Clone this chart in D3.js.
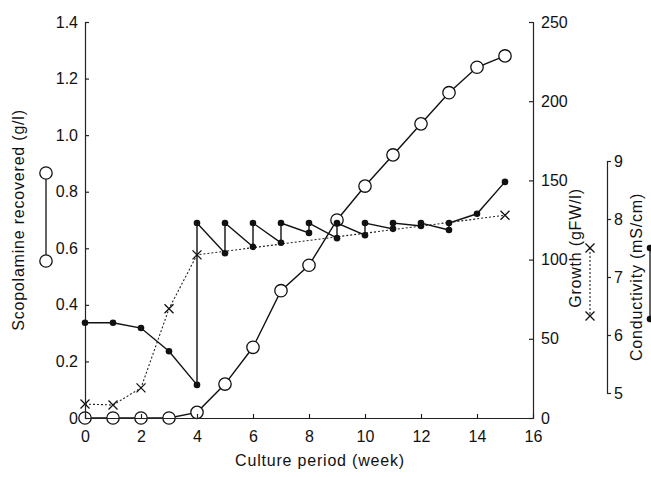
<!DOCTYPE html>
<html>
<head>
<meta charset="utf-8">
<script src="https://cdn.jsdelivr.net/npm/d3@7"></script>
<style>
  body { margin: 0; background: #fff; }
  svg { display: block; font-family: "Liberation Sans", Arial, sans-serif; }
  .axis path, .axis line { stroke: #222; stroke-width: 1.2; }
  .axis text { font-size: 16px; fill: #111; font-family: "Liberation Sans", Arial, sans-serif; }
  .title { font-size: 16px; fill: #111; letter-spacing: 0.8px; }
</style>
</head>
<body>
<svg class="chart"></svg>
<script>
// scopolamine recovered (g/l), open circles, left axis
var weeks = [0, 1, 2, 3, 4, 5, 6, 7, 8, 9, 10, 11, 12, 13, 14, 15];
var scopolamine = [0, 0, 0, 0, 0.02, 0.12, 0.25, 0.45, 0.54, 0.70, 0.82, 0.93, 1.04, 1.15, 1.24, 1.28];

// growth (gFW/l), crosses, dotted
var growthWeeks = [0, 1, 2, 3, 4, 15];
var growth = [8.8, 8.2, 19, 69, 103, 128];

// conductivity (mS/cm), filled dots; medium renewed each week from week 4 (repeated week = value after renewal)
var condWeeks = [0, 1, 2, 3, 4, 4, 5, 5, 6, 6, 7, 7, 8, 8, 9, 9, 10, 10, 11, 11, 12, 12, 13, 13, 14, 15];
var condValues = [6.21, 6.21, 6.12, 5.72, 5.14, 7.93, 7.41, 7.93, 7.52, 7.93, 7.59, 7.93, 7.76, 7.93,
                  7.67, 7.93, 7.72, 7.93, 7.83, 7.93, 7.88, 7.93, 7.81, 7.93, 8.09, 8.64];

var xTicks = [0, 2, 4, 6, 8, 10, 12, 14, 16];
var leftTicks = [0, 0.2, 0.4, 0.6, 0.8, 1.0, 1.2, 1.4];
var growthTicks = [0, 50, 100, 150, 200, 250];
var condTicks = [5, 6, 7, 8, 9];

var width = 651, height = 477;
var svg = d3.select('.chart').attr('width', width).attr('height', height);

var x = d3.scaleLinear().domain([0, 16]).range([85, 533]);
var yL = d3.scaleLinear().domain([0, 1.4]).range([418, 22]);
var yG = d3.scaleLinear().domain([0, 250]).range([418, 22]);
var yC = d3.scaleLinear().domain([5, 9]).range([393, 161]);
var condAxisX = 607;

// growth, dotted
svg.append('path')
    .datum(growthWeeks.map(function(w, i) { return [w, growth[i]]; }))
    .attr('fill', 'none').attr('stroke', '#222').attr('stroke-width', 1.1)
    .attr('stroke-dasharray', '2,2')
    .attr('d', d3.line().x(function(d) { return x(d[0]); }).y(function(d) { return yG(d[1]); }));

function cross(g, cx, cy) {
    var s = 4.5;
    g.append('path')
        .attr('d', 'M' + (cx - s) + ',' + (cy - s) + 'L' + (cx + s) + ',' + (cy + s) +
                   'M' + (cx - s) + ',' + (cy + s) + 'L' + (cx + s) + ',' + (cy - s))
        .attr('stroke', '#111').attr('stroke-width', 1.3);
}
growthWeeks.forEach(function(w, i) { cross(svg, x(w), yG(growth[i])); });

// scopolamine line + circles
svg.append('path')
    .datum(weeks.map(function(w, i) { return [w, scopolamine[i]]; }))
    .attr('fill', 'none').attr('stroke', '#111').attr('stroke-width', 1.4)
    .attr('d', d3.line().x(function(d) { return x(d[0]); }).y(function(d) { return yL(d[1]); }));

svg.selectAll('.open').data(weeks).enter().append('circle')
    .attr('class', 'open')
    .attr('cx', function(w) { return x(w); })
    .attr('cy', function(w, i) { return yL(scopolamine[i]); })
    .attr('r', 6.2)
    .attr('fill', '#fff').attr('stroke', '#111').attr('stroke-width', 1.3);

// axes
var fmtL = function(d) { return d === 0 ? '0' : d3.format('.1f')(d); };

svg.append('g').attr('class', 'axis')
    .attr('transform', 'translate(0,418)')
    .call(d3.axisBottom(x).tickValues(xTicks).tickSizeInner(-4).tickSizeOuter(0).tickPadding(13));

svg.append('g').attr('class', 'axis')
    .attr('transform', 'translate(85,0)')
    .call(d3.axisLeft(yL).tickValues(leftTicks).tickFormat(fmtL).tickSizeInner(-4).tickSizeOuter(-4).tickPadding(7));

svg.append('g').attr('class', 'axis')
    .attr('transform', 'translate(533,0)')
    .call(d3.axisRight(yG).tickValues(growthTicks).tickSizeInner(-4).tickSizeOuter(-4).tickPadding(8));

svg.append('g').attr('class', 'axis')
    .attr('transform', 'translate(' + condAxisX + ',0)')
    .call(d3.axisRight(yC).tickValues(condTicks).tickFormat(d3.format('d'))
        .tickSizeInner(4).tickSizeOuter(4).tickPadding(3));

// conductivity line + dots
svg.append('path')
    .datum(condWeeks.map(function(w, i) { return [w, condValues[i]]; }))
    .attr('fill', 'none').attr('stroke', '#111').attr('stroke-width', 1.4)
    .attr('d', d3.line().x(function(d) { return x(d[0]); }).y(function(d) { return yC(d[1]); }));

svg.selectAll('.dot').data(condWeeks).enter().append('circle')
    .attr('class', 'dot')
    .attr('cx', function(w) { return x(w); })
    .attr('cy', function(w, i) { return yC(condValues[i]); })
    .attr('r', 3.3)
    .attr('fill', '#111');

// titles
svg.append('text').attr('class', 'title')
    .attr('transform', 'translate(24,220) rotate(-90)')
    .attr('text-anchor', 'middle').text('Scopolamine recovered (g/l)');

svg.append('text').attr('class', 'title')
    .attr('transform', 'translate(581,248) rotate(-90)')
    .attr('text-anchor', 'middle').text('Growth (gFW/l)');

svg.append('text').attr('class', 'title')
    .attr('transform', 'translate(642,277) rotate(-90)')
    .attr('text-anchor', 'middle').text('Conductivity (mS/cm)');

svg.append('text').attr('class', 'title')
    .attr('x', 320).attr('y', 466)
    .attr('text-anchor', 'middle').text('Culture period (week)');

// legend keys beside the titles
var keyL = svg.append('g');
keyL.append('line').attr('x1', 46).attr('x2', 46).attr('y1', 173).attr('y2', 261)
    .attr('stroke', '#111').attr('stroke-width', 1.3);
[173, 261].forEach(function(cy) {
    keyL.append('circle').attr('cx', 46).attr('cy', cy).attr('r', 6.2)
        .attr('fill', '#fff').attr('stroke', '#111').attr('stroke-width', 1.3);
});

var keyG = svg.append('g');
keyG.append('line').attr('x1', 590).attr('x2', 590).attr('y1', 248).attr('y2', 316)
    .attr('stroke', '#222').attr('stroke-width', 1.1).attr('stroke-dasharray', '2,2');
cross(keyG, 590, 248);
cross(keyG, 590, 316);

var keyC = svg.append('g');
keyC.append('line').attr('x1', 650).attr('x2', 650).attr('y1', 248).attr('y2', 319)
    .attr('stroke', '#111').attr('stroke-width', 1.3);
[248, 319].forEach(function(cy) {
    keyC.append('circle').attr('cx', 650).attr('cy', cy).attr('r', 3.3).attr('fill', '#111');
});
</script>
</body>
</html>
